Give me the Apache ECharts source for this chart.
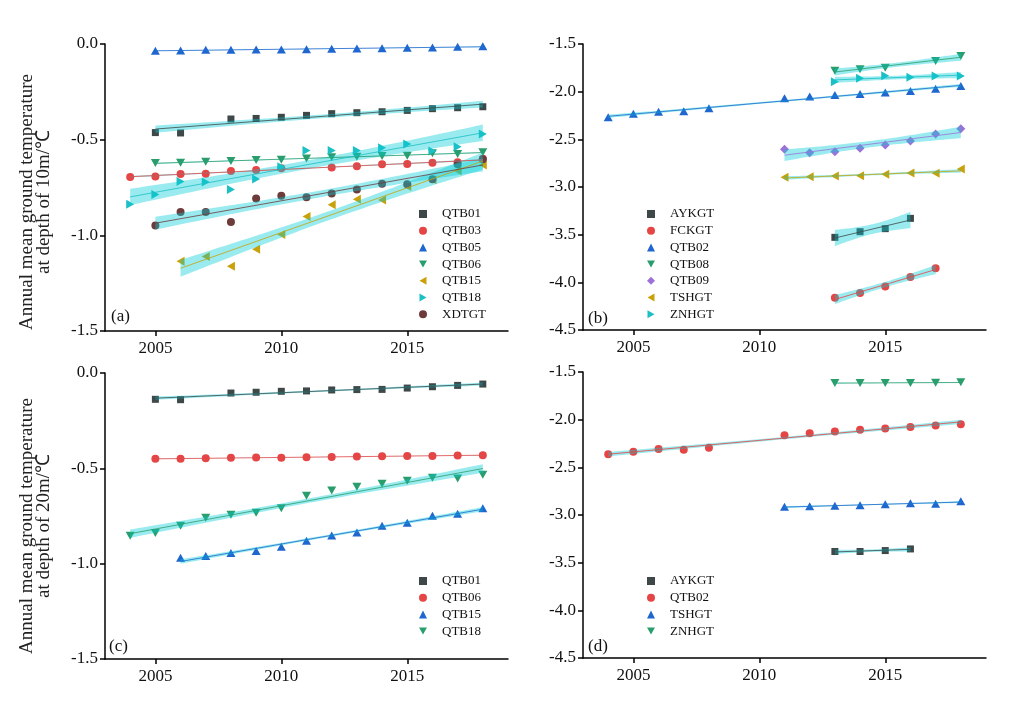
<!DOCTYPE html>
<html><head><meta charset="utf-8">
<script src="https://cdn.jsdelivr.net/npm/echarts@6/dist/echarts.min.js"></script>
<style>html,body{margin:0;padding:0;background:#fff}#c{width:1024px;height:707px}</style>
</head><body><div id="c"></div>
<script>
// ---------------- DATA ----------------
const years = [2004,2005,2006,2007,2008,2009,2010,2011,2012,2013,2014,2015,2016,2017,2018];
const xTickValues = [2005, 2010, 2015];

// (a) 10 m depth
const a_QTB01 = [null,-0.463,-0.465,null,-0.392,-0.389,-0.383,-0.373,-0.364,-0.359,-0.354,-0.347,-0.338,-0.333,-0.328];
const a_QTB03 = [-0.695,-0.692,-0.679,-0.678,-0.664,-0.659,-0.650,null,-0.645,-0.639,-0.629,-0.627,-0.620,-0.618,-0.600];
const a_QTB05 = [null,-0.035,-0.034,-0.030,-0.030,-0.029,-0.029,-0.027,-0.025,-0.024,-0.022,-0.020,-0.018,-0.015,-0.012];
const a_QTB06 = [null,-0.622,-0.620,-0.615,-0.611,-0.606,-0.605,-0.598,-0.592,-0.589,-0.585,-0.584,-0.571,-0.575,-0.566];
const a_QTB15 = [null,null,-1.136,-1.110,-1.162,-1.073,-0.995,-0.902,-0.840,-0.812,-0.815,-0.745,-0.710,-0.662,-0.633];
const a_QTB18 = [-0.838,-0.787,-0.718,-0.721,-0.761,-0.706,-0.641,-0.557,-0.557,-0.557,-0.542,-0.523,-0.559,-0.537,-0.470];
const a_XDTGT = [null,-0.948,-0.878,-0.878,-0.930,-0.808,-0.793,-0.801,-0.782,-0.761,-0.730,-0.733,-0.707,-0.629,-0.603];

// (b) 10 m depth
const b_AYKGT = [null,null,null,null,null,null,null,null,null,-3.528,-3.469,-3.437,-3.329,null,null];
const b_FCKGT = [null,null,null,null,null,null,null,null,null,-4.161,-4.112,-4.045,-3.944,-3.853,null];
const b_QTB02 = [-2.269,-2.231,-2.210,-2.206,-2.175,null,null,-2.070,-2.052,-2.035,-2.024,-2.010,-1.993,-1.969,-1.940];
const b_QTB08 = [null,null,null,null,null,null,null,null,null,-1.780,-1.766,-1.748,null,-1.678,-1.626];
const b_QTB09 = [null,null,null,null,null,null,null,-2.605,-2.640,-2.629,-2.594,-2.559,-2.517,-2.444,-2.390];
const b_TSHGT = [null,null,null,null,null,null,null,-2.899,-2.892,-2.885,-2.881,-2.867,-2.853,-2.857,-2.811];
const b_ZNHGT = [null,null,null,null,null,null,null,null,null,-1.895,-1.860,-1.832,-1.850,-1.836,-1.836];

// (c) 20 m depth
const c_QTB01 = [null,-0.138,-0.140,null,-0.105,-0.101,-0.096,-0.094,-0.089,-0.087,-0.086,-0.079,-0.072,-0.065,-0.058];
const c_QTB06 = [null,-0.450,-0.450,-0.447,-0.445,-0.443,-0.445,-0.442,-0.440,-0.438,-0.436,-0.435,-0.435,-0.433,-0.431];
const c_QTB15 = [null,null,-0.969,-0.960,-0.944,-0.934,-0.911,-0.880,-0.852,-0.836,-0.801,-0.785,-0.749,-0.738,-0.709];
const c_QTB18 = [-0.853,-0.839,-0.801,-0.759,-0.743,-0.733,-0.709,-0.644,-0.616,-0.597,-0.581,-0.565,-0.550,-0.553,-0.534];

// (d) 20 m depth
const d_AYKGT = [null,null,null,null,null,null,null,null,null,-3.383,-3.383,-3.373,-3.356,null,null];
const d_QTB02 = [-2.362,-2.337,-2.309,-2.316,-2.295,null,null,-2.163,-2.142,-2.124,-2.107,-2.093,-2.076,-2.062,-2.048];
const d_TSHGT = [null,null,null,null,null,null,null,-2.913,-2.909,-2.902,-2.899,-2.888,-2.878,-2.881,-2.855];
const d_ZNHGT = [null,null,null,null,null,null,null,null,null,-1.615,-1.615,-1.615,-1.615,-1.612,-1.608];

const yAxisNames = ['Annual mean ground temperature\nat depth of 10m/\u2103', 'Annual mean ground temperature\nat depth of 20m/\u2103'];
const panelTags = ['(a)', '(b)', '(c)', '(d)'];

// ---------------- STYLE ----------------
const COL = {grey:'#3e4848', red:'#e64545', blue:'#1f66cf', green:'#2a9d6c', gold:'#c9a10a', cyan:'#1cbfc4', brown:'#6e3b3b', purple:'#9d72d8'};
const SYM = {
  sq:{symbol:'rect', size:7},
  ci:{symbol:'circle', size:8},
  up:{symbol:'triangle', size:[9,8]},
  dn:{symbol:'path://M0,0L10,0L5,8.7Z', size:[9,8]},
  lt:{symbol:'path://M8.7,0L0,5L8.7,10Z', size:[8,9]},
  rt:{symbol:'path://M0,0L8.7,5L0,10Z', size:[8,9]},
  di:{symbol:'diamond', size:9}
};
const FONT = '"Liberation Serif", "Times New Roman", serif';

const panels = [
  {key:'a', ymin:-1.5, ymax:0, grid:{left:105, top:44, width:403, height:287}, legend:{left:414, top:202},
   series:[['QTB01',a_QTB01,'grey','sq'],['QTB03',a_QTB03,'red','ci'],['QTB05',a_QTB05,'blue','up'],['QTB06',a_QTB06,'green','dn'],['QTB15',a_QTB15,'gold','lt'],['QTB18',a_QTB18,'cyan','rt'],['XDTGT',a_XDTGT,'brown','ci']]},
  {key:'b', ymin:-4.5, ymax:-1.5, grid:{left:583, top:44, width:403, height:286}, legend:{left:642, top:202},
   series:[['AYKGT',b_AYKGT,'grey','sq'],['FCKGT',b_FCKGT,'red','ci'],['QTB02',b_QTB02,'blue','up'],['QTB08',b_QTB08,'green','dn'],['QTB09',b_QTB09,'purple','di'],['TSHGT',b_TSHGT,'gold','lt'],['ZNHGT',b_ZNHGT,'cyan','rt']]},
  {key:'c', ymin:-1.5, ymax:0, grid:{left:105, top:373, width:403, height:286}, legend:{left:414, top:569},
   series:[['QTB01',c_QTB01,'grey','sq'],['QTB06',c_QTB06,'red','ci'],['QTB15',c_QTB15,'blue','up'],['QTB18',c_QTB18,'green','dn']]},
  {key:'d', ymin:-4.5, ymax:-1.5, grid:{left:583, top:372, width:403, height:286}, legend:{left:642, top:569},
   series:[['AYKGT',d_AYKGT,'grey','sq'],['QTB02',d_QTB02,'red','ci'],['TSHGT',d_TSHGT,'blue','up'],['ZNHGT',d_ZNHGT,'green','dn']]}
];

const T95 = {2:4.303,3:3.182,4:2.776,5:2.571,6:2.447,7:2.365,8:2.306,9:2.262,10:2.228,11:2.201,12:2.179,13:2.160,14:2.145};
function linfit(xs, ys){
  const n = xs.length;
  const mx = xs.reduce((s,v)=>s+v,0)/n, my = ys.reduce((s,v)=>s+v,0)/n;
  let sxx=0, sxy=0;
  for (let i=0;i<n;i++){ sxx += (xs[i]-mx)*(xs[i]-mx); sxy += (xs[i]-mx)*(ys[i]-my); }
  const b = sxy/sxx, a = my - b*mx;
  let sse = 0;
  for (let i=0;i<n;i++){ const r = ys[i]-(a+b*xs[i]); sse += r*r; }
  const s = Math.sqrt(sse/(n-2));
  return {a, b, s, mx, sxx, n, t:T95[n-2]||2, xmin:Math.min(...xs), xmax:Math.max(...xs)};
}

const grids=[], xAxes=[], yAxes=[], legends=[], series=[], graphics=[];
panels.forEach((p, gi) => {
  grids.push(Object.assign({outerBoundsMode:'none', containLabel:false}, p.grid));
  xAxes.push({type:'value', gridIndex:gi, min:2003, max:2019,
    axisLine:{show:true, onZero:false, lineStyle:{color:'#000', width:1.5}},
    axisTick:{show:true, length:5, customValues:xTickValues, lineStyle:{color:'#000', width:1.5}},
    axisLabel:{customValues:xTickValues, margin:9, fontSize:17, fontFamily:FONT, color:'#111', formatter:v=>String(v)},
    splitLine:{show:false}});
  yAxes.push({type:'value', gridIndex:gi, min:p.ymin, max:p.ymax, interval:0.5,
    axisLine:{show:true, onZero:false, lineStyle:{color:'#000', width:1.5}},
    axisTick:{show:true, length:5, lineStyle:{color:'#000', width:1.5}},
    axisLabel:{margin:7, fontSize:17, fontFamily:FONT, color:'#111', formatter:v=>v.toFixed(1)},
    splitLine:{show:false}});
  const legendNames = [];
  p.series.forEach(([name, vals, col, sym]) => {
    const full = p.key + '|' + name;
    legendNames.push(full);
    const pts = [];
    vals.forEach((v,i)=>{ if (v!==null) pts.push([years[i], v]); });
    series.push({type:'scatter', name:full, xAxisIndex:gi, yAxisIndex:gi, data:pts,
      symbol:SYM[sym].symbol, symbolSize:SYM[sym].size, itemStyle:{color:COL[col], opacity:1}, z:2, silent:true});
    const f = linfit(pts.map(q=>q[0]), pts.map(q=>q[1]));
    const up=[], lo=[];
    const N=40;
    for (let k=0;k<=N;k++){
      const x = f.xmin + (f.xmax-f.xmin)*k/N;
      const y = f.a + f.b*x;
      const h = f.t*f.s*Math.sqrt(1/f.n + (x-f.mx)*(x-f.mx)/f.sxx);
      up.push([x, y+h]); lo.push([x, y-h]);
    }
    series.push({type:'custom', name:full+' band', xAxisIndex:gi, yAxisIndex:gi, silent:true, z:3, clip:true,
      data:[[f.xmin, f.a+f.b*f.xmin]],
      renderItem:(params, api)=>{
        const ptsPx = up.map(q=>api.coord(q)).concat(lo.slice().reverse().map(q=>api.coord(q)));
        return {type:'polygon', shape:{points:ptsPx}, style:{fill:'rgba(0,205,215,0.40)'}};
      }});
    series.push({type:'line', name:full+' fit', xAxisIndex:gi, yAxisIndex:gi, silent:true, z:4,
      data:[[f.xmin, f.a+f.b*f.xmin],[f.xmax, f.a+f.b*f.xmax]], symbol:'none',
      lineStyle:{color:COL[col], width:1, opacity:0.8}});
  });
  legends.push({orient:'vertical', left:p.legend.left, top:p.legend.top, data:legendNames,
    formatter:n=>n.split('|')[1], selectedMode:false, itemWidth:8, itemHeight:8, itemGap:2.7,
    textStyle:{fontFamily:FONT, fontSize:13, color:'#111', lineHeight:14, padding:[0,0,0,10]}});
});

graphics.push({type:'text', x:36, y:202, rotation:Math.PI/2,
  style:{text:yAxisNames[0], font:'19px ' + FONT, fill:'#222', textAlign:'center', textVerticalAlign:'middle', lineHeight:17}});
graphics.push({type:'text', x:36, y:526, rotation:Math.PI/2,
  style:{text:yAxisNames[1], font:'19px ' + FONT, fill:'#222', textAlign:'center', textVerticalAlign:'middle', lineHeight:17}});
const tagPos = [[111,317],[588,319],[109,647],[588,647]];
panelTags.forEach((t,i)=>{
  graphics.push({type:'text', x:tagPos[i][0], y:tagPos[i][1],
    style:{text:t, font:'17px ' + FONT, fill:'#111', textAlign:'left', textVerticalAlign:'middle'}});
});

const chart = echarts.init(document.getElementById('c'), null, {renderer:'canvas'});
chart.setOption({
  animation:false, backgroundColor:'#fff',
  grid:grids, xAxis:xAxes, yAxis:yAxes, legend:legends, series:series, graphic:graphics
});
</script></body></html>
